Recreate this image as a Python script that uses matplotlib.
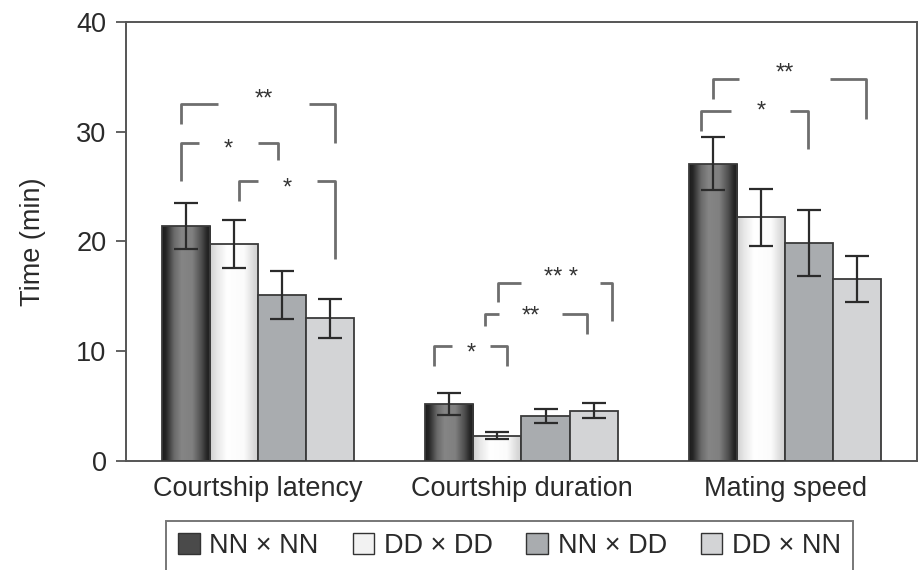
import numpy as np
import matplotlib
matplotlib.use("Agg")
import matplotlib.pyplot as plt
from matplotlib.colors import LinearSegmentedColormap
from matplotlib.patches import Patch

plt.rcParams['font.family'] = ['Liberation Sans', 'DejaVu Sans']

# データ
categories = ["Courtship latency", "Courtship duration", "Mating speed"]
series = ["NN × NN", "DD × DD", "NN × DD", "DD × NN"]
nn_nn = [21.4, 5.2, 27.1]
dd_dd = [19.8, 2.3, 22.2]
nn_dd = [15.1, 4.1, 19.9]
dd_nn = [13.0, 4.6, 16.6]
nn_nn_err = [2.1, 1.0, 2.4]
dd_dd_err = [2.2, 0.3, 2.6]
nn_dd_err = [2.2, 0.6, 3.0]
dd_nn_err = [1.8, 0.7, 2.1]

# 有意差の括弧: (群, 左端, 左の切れ目, 右の切れ目, 右端 [棒幅単位], 高さ, 左脚の下端, 右脚の下端, ラベル, ラベル高さ)
brackets = [
    (0, -1.59, -0.83, 1.06, 1.60, 32.5, 30.7, 29.0, "**", 33.5),
    (0, -1.59, -1.23, 0.00, 0.42, 29.0, 25.5, 27.4, "*", 29.0),
    (0, -0.39, 0.00, 1.23, 1.60, 25.5, 23.7, 18.4, "*", 25.4),
    (1, -1.82, -1.45, -0.66, -0.30, 10.5, 8.7, 8.7, "*", 10.4),
    (1, -0.75, -0.47, 0.84, 1.36, 13.4, 12.3, 11.6, "**", 13.8),
    (1, -0.48, 0.00, 1.64, 1.88, 16.2, 14.5, 12.75, "** *", 17.3),
    (2, -1.50, -0.96, 0.93, 1.68, 34.8, 33.0, 31.2, "**", 35.9),
    (2, -1.74, -1.12, 0.11, 0.475, 31.85, 30.1, 28.4, "*", 32.4),
]

values = [nn_nn, dd_dd, nn_dd, dd_nn]
errors = [nn_nn_err, dd_dd_err, nn_dd_err, dd_nn_err]

# 棒の塗り (グラデーション or 単色)
dark_shade = LinearSegmentedColormap.from_list(
    "dark", [(0, "#1c1c1c"), (0.08, "#262626"), (0.25, "#6a6a6a"), (0.4, "#858585"),
             (0.62, "#808080"), (0.8, "#505050"), (0.92, "#262626"), (1, "#1c1c1c")])
light_shade = LinearSegmentedColormap.from_list(
    "light", [(0, "#d0d0d0"), (0.15, "#e8e8e8"), (0.35, "#ffffff"), (0.7, "#fbfbfb"),
              (0.9, "#dadada"), (1, "#cfcfcf")])
fills = [dark_shade, light_shade, "#a9acaf", "#d3d4d6"]
legend_fills = ["#4a4a4a", "#f2f2f2", "#a9acaf", "#d3d4d6"]

fs = 19.5
text_c = "#2a2a2a"
line_c = "#555555"

fig = plt.figure(figsize=(9.2, 5.7), dpi=100)
ax = fig.add_axes([126 / 920, 1 - 461 / 570, (917 - 126) / 920, (461 - 22) / 570])

x = np.arange(len(categories))
w = 0.1825
grad = np.linspace(0, 1, 256).reshape(1, -1)

for i, (vals, errs, fill) in enumerate(zip(values, errors, fills)):
    pos = x + (i - 1.5) * w
    if isinstance(fill, str):
        ax.bar(pos, vals, width=w, color=fill, edgecolor="#3a3a3a", linewidth=1.3, zorder=3)
    else:
        bars = ax.bar(pos, vals, width=w, facecolor="none", edgecolor="#3a3a3a",
                      linewidth=1.3, zorder=3)
        for rect in bars:
            x0 = rect.get_x()
            im = ax.imshow(grad, cmap=fill, aspect="auto", interpolation="bilinear",
                           extent=(x0, x0 + rect.get_width(), 0, rect.get_height()), zorder=2)
            im.set_clip_path(rect)
    ax.errorbar(pos, vals, yerr=errs, fmt="none", ecolor="#2b2b2b", elinewidth=1.6,
                capsize=8.5, capthick=1.6, zorder=4)

# 有意差の括弧
for g, xl, xl2, xr2, xr, y, yl, yr, lab, ly in brackets:
    xl, xl2, xr2, xr = [x[g] + v * w for v in (xl, xl2, xr2, xr)]
    ax.plot([xl, xl, xl2], [yl, y, y], color="#6e6e6e", lw=2.0, solid_capstyle="butt",
            zorder=5, clip_on=False)
    ax.plot([xr2, xr, xr], [y, y, yr], color="#6e6e6e", lw=2.0, solid_capstyle="butt",
            zorder=5, clip_on=False)
    ax.annotate(lab, ((xl2 + xr2) / 2, ly), xytext=(0, -9), textcoords="offset points",
                ha="center", va="baseline", fontsize=17, color="#333333")

ax.set_xlim(-0.5, 2.5)
ax.set_ylim(0, 40)
ax.set_yticks([0, 10, 20, 30, 40])
ax.set_xticks(x)
ax.set_xticklabels(categories)
ax.tick_params(axis="x", length=0, pad=11, labelsize=fs, labelcolor=text_c)
ax.tick_params(axis="y", direction="out", length=7, width=1.3, color=line_c, pad=7,
               labelsize=fs, labelcolor=text_c)
for sp in ax.spines.values():
    sp.set_color(line_c)
    sp.set_linewidth(1.4)
ax.set_ylabel("Time (min)", fontsize=fs, color=text_c, labelpad=22)

handles = [Patch(facecolor=c, edgecolor="#333333", linewidth=1.0) for c in legend_fills]
leg = fig.legend(handles, series, loc="upper center", bbox_to_anchor=(509.5 / 920, 1 - 521 / 570),
                 ncol=4, fontsize=fs, frameon=True, fancybox=False, edgecolor=line_c,
                 handlelength=0.8, handleheight=0.8, handletextpad=0.35, columnspacing=1.25,
                 borderpad=0.45, borderaxespad=0)
leg.get_frame().set_linewidth(1.4)
for t in leg.get_texts():
    t.set_color(text_c)

fig.savefig("out.png", dpi=100)
